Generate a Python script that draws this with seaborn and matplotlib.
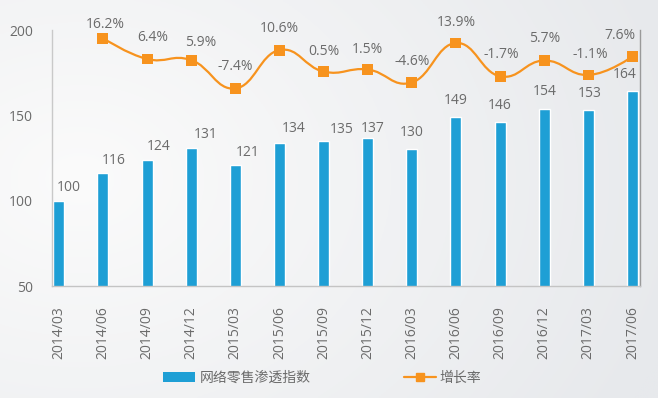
import numpy as np
import pandas as pd
import matplotlib
matplotlib.use("Agg")
import matplotlib.pyplot as plt
from matplotlib.path import Path
from matplotlib.patches import PathPatch, Patch
from matplotlib.lines import Line2D
import seaborn as sns

# ---------------- data ----------------
dates = ["2014/03", "2014/06", "2014/09", "2014/12", "2015/03", "2015/06", "2015/09",
         "2015/12", "2016/03", "2016/06", "2016/09", "2016/12", "2017/03", "2017/06"]
index_values = [100, 116, 124, 131, 121, 134, 135, 137, 130, 149, 146, 154, 153, 164]
growth_dates = dates[1:]
growth_rates = [16.2, 6.4, 5.9, -7.4, 10.6, 0.5, 1.5, -4.6, 13.9, -1.7, 5.7, -1.1, 7.6]
series_names = ["网络零售渗透指数", "增长率"]
y_ticks = [50, 100, 150, 200]

# label nudges (pixels: dx, dy of text centre above the mark)
bar_label_nudge = [(10.5, 14.7), (11, 14), (12, 14.7), (14.5, 14.7), (12.5, 13.7), (14.5, 15.3),
                   (18, 13.3), (5, 10), (0, 18), (0, 18), (0, 18), (1, 18.5), (1, 18.3), (-8, 18)]
rate_label_nudge = [(2.5, 15.3), (6, 23), (9.6, 19.3), (0, 23.3), (0, 22.6), (0, 21.7), (0, 21.7),
                    (0, 22.7), (0, 22), (1, 23.3), (0, 23), (1.5, 22.3), (-12.6, 22.7)]

# ---------------- style ----------------
BLUE = "#1e9fd5"
ORANGE = "#f7931e"
TEXT = "#6b6b6b"

sns.set_theme(style="white")
plt.rcParams["font.family"] = ["Open Sans", "Noto Sans CJK SC", "DejaVu Sans"]

fig = plt.figure(figsize=(6.58, 3.98), dpi=100)

# background gradient
bg = fig.add_axes([0, 0, 1, 1], zorder=-10)
gx, gy = np.meshgrid(np.linspace(0, 1, 300), np.linspace(0, 1, 200))
dist = np.sqrt(((gx - 0.12) * 1.0) ** 2 + ((gy - 0.45) * 0.8) ** 2)
t = np.clip(dist / 0.95, 0, 1)
c0 = np.array([0xfb, 0xfb, 0xfb]) / 255
c1 = np.array([0xe7, 0xe9, 0xec]) / 255
img = c0[None, None, :] * (1 - t[..., None]) + c1[None, None, :] * t[..., None]
bg.imshow(img, aspect="auto", extent=[0, 1, 0, 1], origin="upper")
bg.axis("off")

ax = fig.add_axes([0.0786, 0.2814, 0.894, 0.6432])
ax.set_facecolor("none")

df_bar = pd.DataFrame({"date": dates, "value": index_values})
sns.barplot(data=df_bar, x="date", y="value", color=BLUE, saturation=1, width=0.25,
            ax=ax, zorder=2)

ax.set_ylim(50, 200)
ax.set_xlim(-0.16, 13.17)
ax.set_yticks(y_ticks)
ax.set_xlabel("")
ax.set_ylabel("")
ax.tick_params(axis="y", length=0, pad=13.5, labelsize=10, labelcolor=TEXT)
ax.tick_params(axis="x", length=0, pad=14.5, labelsize=10, labelcolor=TEXT, rotation=90)

ax.spines["top"].set_visible(False)
ax.spines["left"].set_color("#c9c9c9")
ax.spines["bottom"].set_color("#c4c4c4")
ax.spines["right"].set_color("#9a9a9a")
for s in ["left", "bottom", "right"]:
    ax.spines[s].set_linewidth(1.0)

PX2PT = 72 / 100
digit_half = 0.714 * 10 / 72 * 100 / 2  # half digit height in px

for i, (v, (dx, dy)) in enumerate(zip(index_values, bar_label_nudge)):
    ax.annotate(f"{v}", xy=(i, v), xytext=(dx * PX2PT, (dy - digit_half) * PX2PT),
                textcoords="offset points", ha="center", va="baseline",
                fontsize=10, color=TEXT, zorder=5)

# growth line on secondary axis
ax2 = ax.twinx()
ax2.set_ylim(-100, 20)
ax2.set_facecolor("none")
for s in ax2.spines.values():
    s.set_visible(False)
ax2.set_yticks([])

pos = {d: i for i, d in enumerate(dates)}
gx_pos = np.array([pos[d] for d in growth_dates], dtype=float)
gy_val = np.array(growth_rates, dtype=float)

# smooth curve (cubic Bezier through the data points)
smooth = 0.22
pts = np.column_stack([gx_pos, gy_val])
n = len(pts)
verts = [tuple(pts[0])]
codes = [Path.MOVETO]
for i in range(n - 1):
    p0, p1 = pts[i], pts[i + 1]
    v0 = (pts[i + 1] - pts[i - 1]) if i > 0 else np.zeros(2)
    v1 = (pts[i + 2] - pts[i]) if i + 2 < n else np.zeros(2)
    c_a = p0 + smooth * v0
    c_b = p1 - smooth * v1
    verts += [tuple(c_a), tuple(c_b), tuple(p1)]
    codes += [Path.CURVE4] * 3
curve = PathPatch(Path(verts, codes), facecolor="none", edgecolor=ORANGE, lw=1.6, zorder=3)
ax2.add_patch(curve)

df_line = pd.DataFrame({"x": gx_pos, "rate": gy_val})
sns.scatterplot(data=df_line, x="x", y="rate", marker="s", s=62, color=ORANGE,
                edgecolor="none", ax=ax2, zorder=4, legend=False)
ax2.set_xlim(ax.get_xlim())
ax2.set_xlabel("")
ax2.set_ylabel("")

for x, r, (dx, dy) in zip(gx_pos, growth_rates, rate_label_nudge):
    ax2.annotate(f"{r:.1f}%", xy=(x, r), xytext=(dx * PX2PT, (dy - digit_half) * PX2PT),
                 textcoords="offset points", ha="center", va="baseline",
                 fontsize=10, color=TEXT, zorder=5)

handles = [Patch(facecolor=BLUE, edgecolor="none"),
           Line2D([], [], color=ORANGE, lw=1.6, marker="s", markersize=6)]
fig.legend(handles, series_names, loc="center", bbox_to_anchor=(0.49, 0.05), ncol=2,
           frameon=False, fontsize=10, labelcolor=TEXT, handlelength=2.3,
           handletextpad=0.3, columnspacing=6.7)

fig.savefig("out.png", dpi=100)
